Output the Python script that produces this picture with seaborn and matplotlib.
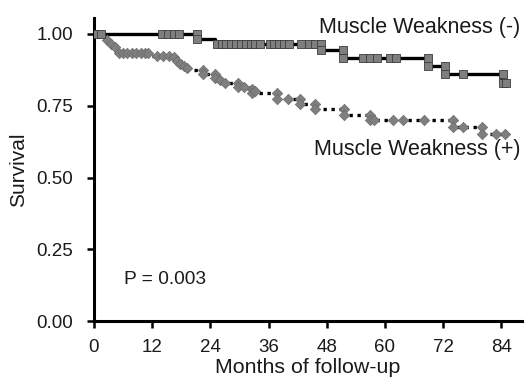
import matplotlib
matplotlib.use("Agg")
import matplotlib.pyplot as plt
import seaborn as sns

# Kaplan-Meier steps, Muscle Weakness (-)
neg_step_months = [0, 21, 25, 47, 51, 68.5, 72, 84, 85.4]
neg_step_surv = [1.0, 0.982, 0.965, 0.944, 0.916, 0.889, 0.861, 0.830, 0.830]

# censor marks (-)
neg_cens_months = [0.4, 1.4, 14.0, 15.2, 16.4, 17.6, 21.3, 21.3, 25.3, 26.3, 27.3, 28.3, 29.3,
                   30.3, 31.3, 32.3, 33.3, 34.3, 36.2, 37.2, 38.2, 39.2, 40.2, 42.6, 44.3,
                   45.6, 46.8, 46.8, 51.4, 51.4, 55.4, 57.0, 58.3, 61.0, 62.3, 68.8, 68.8,
                   72.3, 72.3, 76.0, 84.3, 84.3, 85.0]
neg_cens_surv = [1.0, 1.0, 1.0, 1.0, 1.0, 1.0, 1.0, 0.982, 0.965, 0.965, 0.965, 0.965, 0.965,
                 0.965, 0.965, 0.965, 0.965, 0.965, 0.965, 0.965, 0.965, 0.965, 0.965, 0.965, 0.965,
                 0.965, 0.965, 0.944, 0.944, 0.916, 0.916, 0.916, 0.916, 0.916, 0.916, 0.916, 0.889,
                 0.889, 0.861, 0.861, 0.861, 0.830, 0.830]

# Kaplan-Meier steps, Muscle Weakness (+)
pos_step_months = [0, 2.5, 3.5, 4.5, 12, 17, 18, 19.5, 22.5, 25, 26.5, 30, 32, 38, 42.5, 45.5,
                   51.5, 57, 74, 80, 85]
pos_step_surv = [1.0, 0.975, 0.96, 0.934, 0.923, 0.906, 0.89, 0.875, 0.86, 0.845, 0.83, 0.815,
                 0.795, 0.775, 0.757, 0.74, 0.718, 0.70, 0.675, 0.652, 0.652]

# censor marks (+)
pos_cens_months = [2.6, 3.5, 4.3, 5.1, 6.0, 6.9, 7.8, 8.7, 9.6, 10.5, 11.1, 13.0, 14.2, 15.5,
                   16.4, 17.1, 17.7, 18.5, 19.2, 22.5, 22.5, 25.0, 25.0, 26.0, 27.0, 29.6,
                   29.6, 31.0, 32.5, 32.5, 33.3, 37.8, 37.8, 40.0, 42.4, 42.4, 45.6, 45.6,
                   51.6, 51.6, 57.0, 57.0, 57.7, 61.7, 63.8, 68.0, 74.0, 74.0, 76.0, 80.0,
                   80.0, 82.8, 84.8]
pos_cens_surv = [0.978, 0.965, 0.955, 0.934, 0.934, 0.934, 0.934, 0.934, 0.934, 0.934, 0.932,
                 0.923, 0.923, 0.923, 0.92, 0.906, 0.895, 0.89, 0.88, 0.875, 0.86, 0.86, 0.845,
                 0.84, 0.83, 0.83, 0.815, 0.815, 0.81, 0.795, 0.8, 0.795, 0.775, 0.775, 0.775,
                 0.757, 0.757, 0.74, 0.74, 0.718, 0.718, 0.70, 0.70, 0.70, 0.70, 0.70, 0.70,
                 0.675, 0.675, 0.675, 0.652, 0.652, 0.652]

x_ticks = [0, 12, 24, 36, 48, 60, 72, 84]
y_ticks = [0.00, 0.25, 0.50, 0.75, 1.00]

sns.set_style("white")
plt.rcParams["font.family"] = ["Liberation Sans", "DejaVu Sans"]
plt.rcParams["text.color"] = "#1a1a1a"
plt.rcParams["axes.labelcolor"] = "#1a1a1a"

fig = plt.figure(figsize=(5.28, 3.8), dpi=100)
ax = fig.add_axes([0.178, 0.155, 0.811, 0.798])

sns.lineplot(x=pos_step_months, y=pos_step_surv, drawstyle="steps-post", color="black",
             linewidth=2.4, estimator=None, sort=False, ax=ax)
sns.lineplot(x=neg_step_months, y=neg_step_surv, drawstyle="steps-post", color="black",
             linewidth=2.4, estimator=None, sort=False, ax=ax)
ax.lines[0].set_linestyle((0, (1.0, 1.4)))
ax.lines[0].set_dash_capstyle("butt")

sns.scatterplot(x=pos_cens_months, y=pos_cens_surv, marker="D", s=28, color="#7f7f7f",
                edgecolor="#6a6a6a", linewidth=0.5, zorder=4, ax=ax)
sns.scatterplot(x=neg_cens_months, y=neg_cens_surv, marker="s", s=38, color="#7f7f7f",
                edgecolor="#3c3c3c", linewidth=0.6, zorder=5, ax=ax)

ax.set_xlim(0, 88.3)
ax.set_ylim(0, 1.056)
ax.set_xticks(x_ticks)
ax.set_yticks(y_ticks)
ax.set_yticklabels([f"{v:.2f}" for v in y_ticks])
ax.tick_params(axis="both", direction="out", length=5, width=1.8, labelsize=13.5,
               colors="black", labelcolor="#1a1a1a")
ax.tick_params(axis="x", pad=8)
ax.tick_params(axis="y", pad=10)
ax.tick_params(left=True, bottom=True)
for side in ["top", "right"]:
    ax.spines[side].set_visible(False)
for side in ["left", "bottom"]:
    ax.spines[side].set_color("black")
    ax.spines[side].set_linewidth(2.2)

ax.set_xlabel("Months of follow-up", fontsize=15.4, labelpad=1.5)
ax.set_ylabel("Survival", fontsize=15, labelpad=6)

ax.text(88, 1.024, "Muscle Weakness (-)", fontsize=15.5, ha="right", va="center")
ax.text(88, 0.596, "Muscle Weakness (+)", fontsize=15.5, ha="right", va="center")
ax.text(6.2, 0.146, "P = 0.003", fontsize=13.8, ha="left", va="center")

fig.savefig("out.png", dpi=100)
